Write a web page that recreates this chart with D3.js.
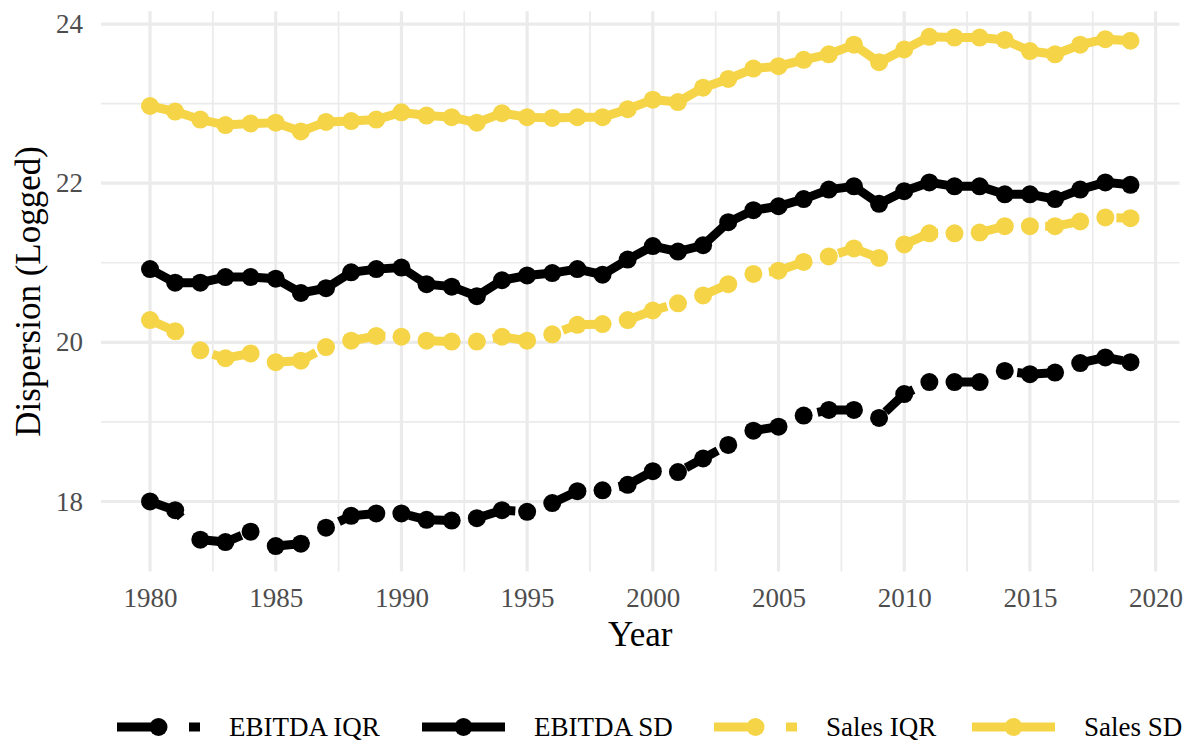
<!DOCTYPE html>
<html>
  <head>
    <meta charset="utf-8">
    <script src="https://d3js.org/d3.v7.min.js"></script>
    <style>
      body { margin: 0; background: #fff; }
      svg text { font-family: "Liberation Serif", "Times New Roman", serif; }
    </style>
  </head>
  <body>
    <div id="chart"></div>
    <script>
      const years = d3.range(1980, 2020);

      const ebitdaIQR = [
        18.00, 17.89, 17.52, 17.49, 17.62, 17.44, 17.47, 17.67, 17.82, 17.85,
        17.85, 17.77, 17.76, 17.79, 17.89, 17.87, 17.98, 18.13, 18.14, 18.21,
        18.38, 18.37, 18.54, 18.71, 18.89, 18.94, 19.08, 19.15, 19.15, 19.05,
        19.35, 19.50, 19.50, 19.50, 19.64, 19.60, 19.62, 19.74, 19.81, 19.75
      ];
      const ebitdaSD = [
        20.92, 20.75, 20.75, 20.82, 20.82, 20.80, 20.62, 20.68, 20.88, 20.92,
        20.94, 20.73, 20.70, 20.58, 20.78, 20.84, 20.87, 20.92, 20.85, 21.04,
        21.21, 21.14, 21.22, 21.51, 21.66, 21.71, 21.80, 21.92, 21.96, 21.74,
        21.90, 22.01, 21.96, 21.96, 21.86, 21.86, 21.80, 21.92, 22.01, 21.98
      ];
      const salesIQR = [
        20.28, 20.14, 19.90, 19.80, 19.86, 19.75, 19.77, 19.94, 20.02, 20.08,
        20.07, 20.02, 20.01, 20.01, 20.07, 20.02, 20.10, 20.22, 20.23, 20.28,
        20.40, 20.49, 20.59, 20.73, 20.86, 20.90, 21.01, 21.08, 21.18, 21.06,
        21.23, 21.37, 21.37, 21.38, 21.46, 21.46, 21.46, 21.52, 21.57, 21.56
      ];
      const salesSD = [
        22.97, 22.90, 22.80, 22.73, 22.75, 22.76, 22.65, 22.77, 22.78, 22.80,
        22.89, 22.85, 22.83, 22.76, 22.88, 22.83, 22.82, 22.83, 22.83, 22.93,
        23.05, 23.02, 23.20, 23.31, 23.44, 23.47, 23.55, 23.62, 23.74, 23.52,
        23.68, 23.84, 23.83, 23.83, 23.80, 23.66, 23.62, 23.74, 23.81, 23.79
      ];

      const seriesNames = ["EBITDA IQR", "EBITDA SD", "Sales IQR", "Sales SD"];
      const seriesValues = [ebitdaIQR, ebitdaSD, salesIQR, salesSD];
      const seriesColors = ["#000000", "#000000", "#F5D547", "#F5D547"];
      const seriesDashed = [true, false, true, false];

      const xTicks = [1980, 1985, 1990, 1995, 2000, 2005, 2010, 2015, 2020];
      const yTicks = [18, 20, 22, 24];

      const width = 1194;
      const height = 742;
      const panel = { left: 101, right: 1179.5, top: 11.3, bottom: 571.5 };
      const lineW = 9;
      const dash = "36,36";
      const ptR = 9;

      const series = seriesNames.map((name, i) => ({
        name,
        color: seriesColors[i],
        dashed: seriesDashed[i],
        values: years.map((y, j) => ({ year: y, value: seriesValues[i][j] }))
      }));

      // ggplot style 5% expansion
      const xExt = d3.extent(years);
      const xPad = (xExt[1] - xExt[0]) * 0.05;
      const allVals = seriesValues.flat();
      const yExt = d3.extent(allVals);
      const yPad = (yExt[1] - yExt[0]) * 0.05;

      const x = d3.scaleLinear()
        .domain([xExt[0] - xPad, xExt[1] + xPad])
        .range([panel.left, panel.right]);
      const y = d3.scaleLinear()
        .domain([yExt[0] - yPad, yExt[1] + yPad])
        .range([panel.bottom, panel.top]);

      const svg = d3.select("#chart")
        .append("svg")
        .attr("width", width)
        .attr("height", height);

      // grid
      const grid = svg.append("g");
      const xMinor = d3.range(1977.5, 2025, 5).filter(v => x(v) >= panel.left && x(v) <= panel.right);
      const yMinor = d3.range(17, 26, 2).filter(v => y(v) >= panel.top && y(v) <= panel.bottom);

      grid.selectAll(".xminor").data(xMinor).enter().append("line")
        .attr("x1", d => x(d)).attr("x2", d => x(d))
        .attr("y1", panel.top).attr("y2", panel.bottom)
        .attr("stroke", "#ebebeb").attr("stroke-width", 1.7);
      grid.selectAll(".yminor").data(yMinor).enter().append("line")
        .attr("y1", d => y(d)).attr("y2", d => y(d))
        .attr("x1", panel.left).attr("x2", panel.right)
        .attr("stroke", "#ebebeb").attr("stroke-width", 1.7);
      grid.selectAll(".xmajor").data(xTicks).enter().append("line")
        .attr("x1", d => x(d)).attr("x2", d => x(d))
        .attr("y1", panel.top).attr("y2", panel.bottom)
        .attr("stroke", "#ebebeb").attr("stroke-width", 3.2);
      grid.selectAll(".ymajor").data(yTicks).enter().append("line")
        .attr("y1", d => y(d)).attr("y2", d => y(d))
        .attr("x1", panel.left).attr("x2", panel.right)
        .attr("stroke", "#ebebeb").attr("stroke-width", 3.2);

      // axes (text only, theme_minimal)
      const xAxis = svg.append("g")
        .attr("transform", `translate(0,${panel.bottom})`)
        .call(d3.axisBottom(x).tickValues(xTicks).tickFormat(d3.format("d")).tickSize(0).tickPadding(16));
      const yAxis = svg.append("g")
        .attr("transform", `translate(${panel.left},0)`)
        .call(d3.axisLeft(y).tickValues(yTicks).tickFormat(d3.format("d")).tickSize(0).tickPadding(18));
      [xAxis, yAxis].forEach(a => {
        a.select(".domain").remove();
        a.selectAll("text")
          .attr("fill", "#4d4d4d")
          .style("font-size", "27px")
          .style("font-family", '"Liberation Serif", serif');
      });

      svg.append("text")
        .attr("x", (panel.left + panel.right) / 2)
        .attr("y", 646)
        .attr("text-anchor", "middle")
        .style("font-size", "35px")
        .text("Year");

      svg.append("text")
        .attr("transform", `translate(40,${(panel.top + panel.bottom) / 2}) rotate(-90)`)
        .attr("text-anchor", "middle")
        .style("font-size", "35px")
        .text("Dispersion (Logged)");

      // lines
      const line = d3.line().x(d => x(d.year)).y(d => y(d.value));

      svg.append("g").selectAll("path").data(series).enter().append("path")
        .attr("d", d => line(d.values))
        .attr("fill", "none")
        .attr("stroke", d => d.color)
        .attr("stroke-width", lineW)
        .attr("stroke-dasharray", d => d.dashed ? dash : null);

      svg.append("g").selectAll("g").data(series).enter().append("g")
        .attr("fill", d => d.color)
        .selectAll("circle").data(d => d.values).enter().append("circle")
        .attr("cx", d => x(d.year))
        .attr("cy", d => y(d.value))
        .attr("r", ptR);

      // legend
      const legendX = [117, 422, 714, 972];
      const keyW = 83;
      const legendY = 727;
      const legend = svg.append("g").selectAll("g").data(series).enter().append("g")
        .attr("transform", (d, i) => `translate(${legendX[i]},${legendY})`);
      legend.append("line")
        .attr("x1", 0).attr("x2", keyW)
        .attr("stroke", d => d.color)
        .attr("stroke-width", lineW)
        .attr("stroke-dasharray", d => d.dashed ? dash : null);
      legend.append("circle")
        .attr("cx", keyW / 2).attr("r", ptR)
        .attr("fill", d => d.color);
      legend.append("text")
        .attr("x", keyW + 29)
        .attr("y", 9)
        .style("font-size", "27px")
        .text(d => d.name);
    </script>
  </body>
</html>
